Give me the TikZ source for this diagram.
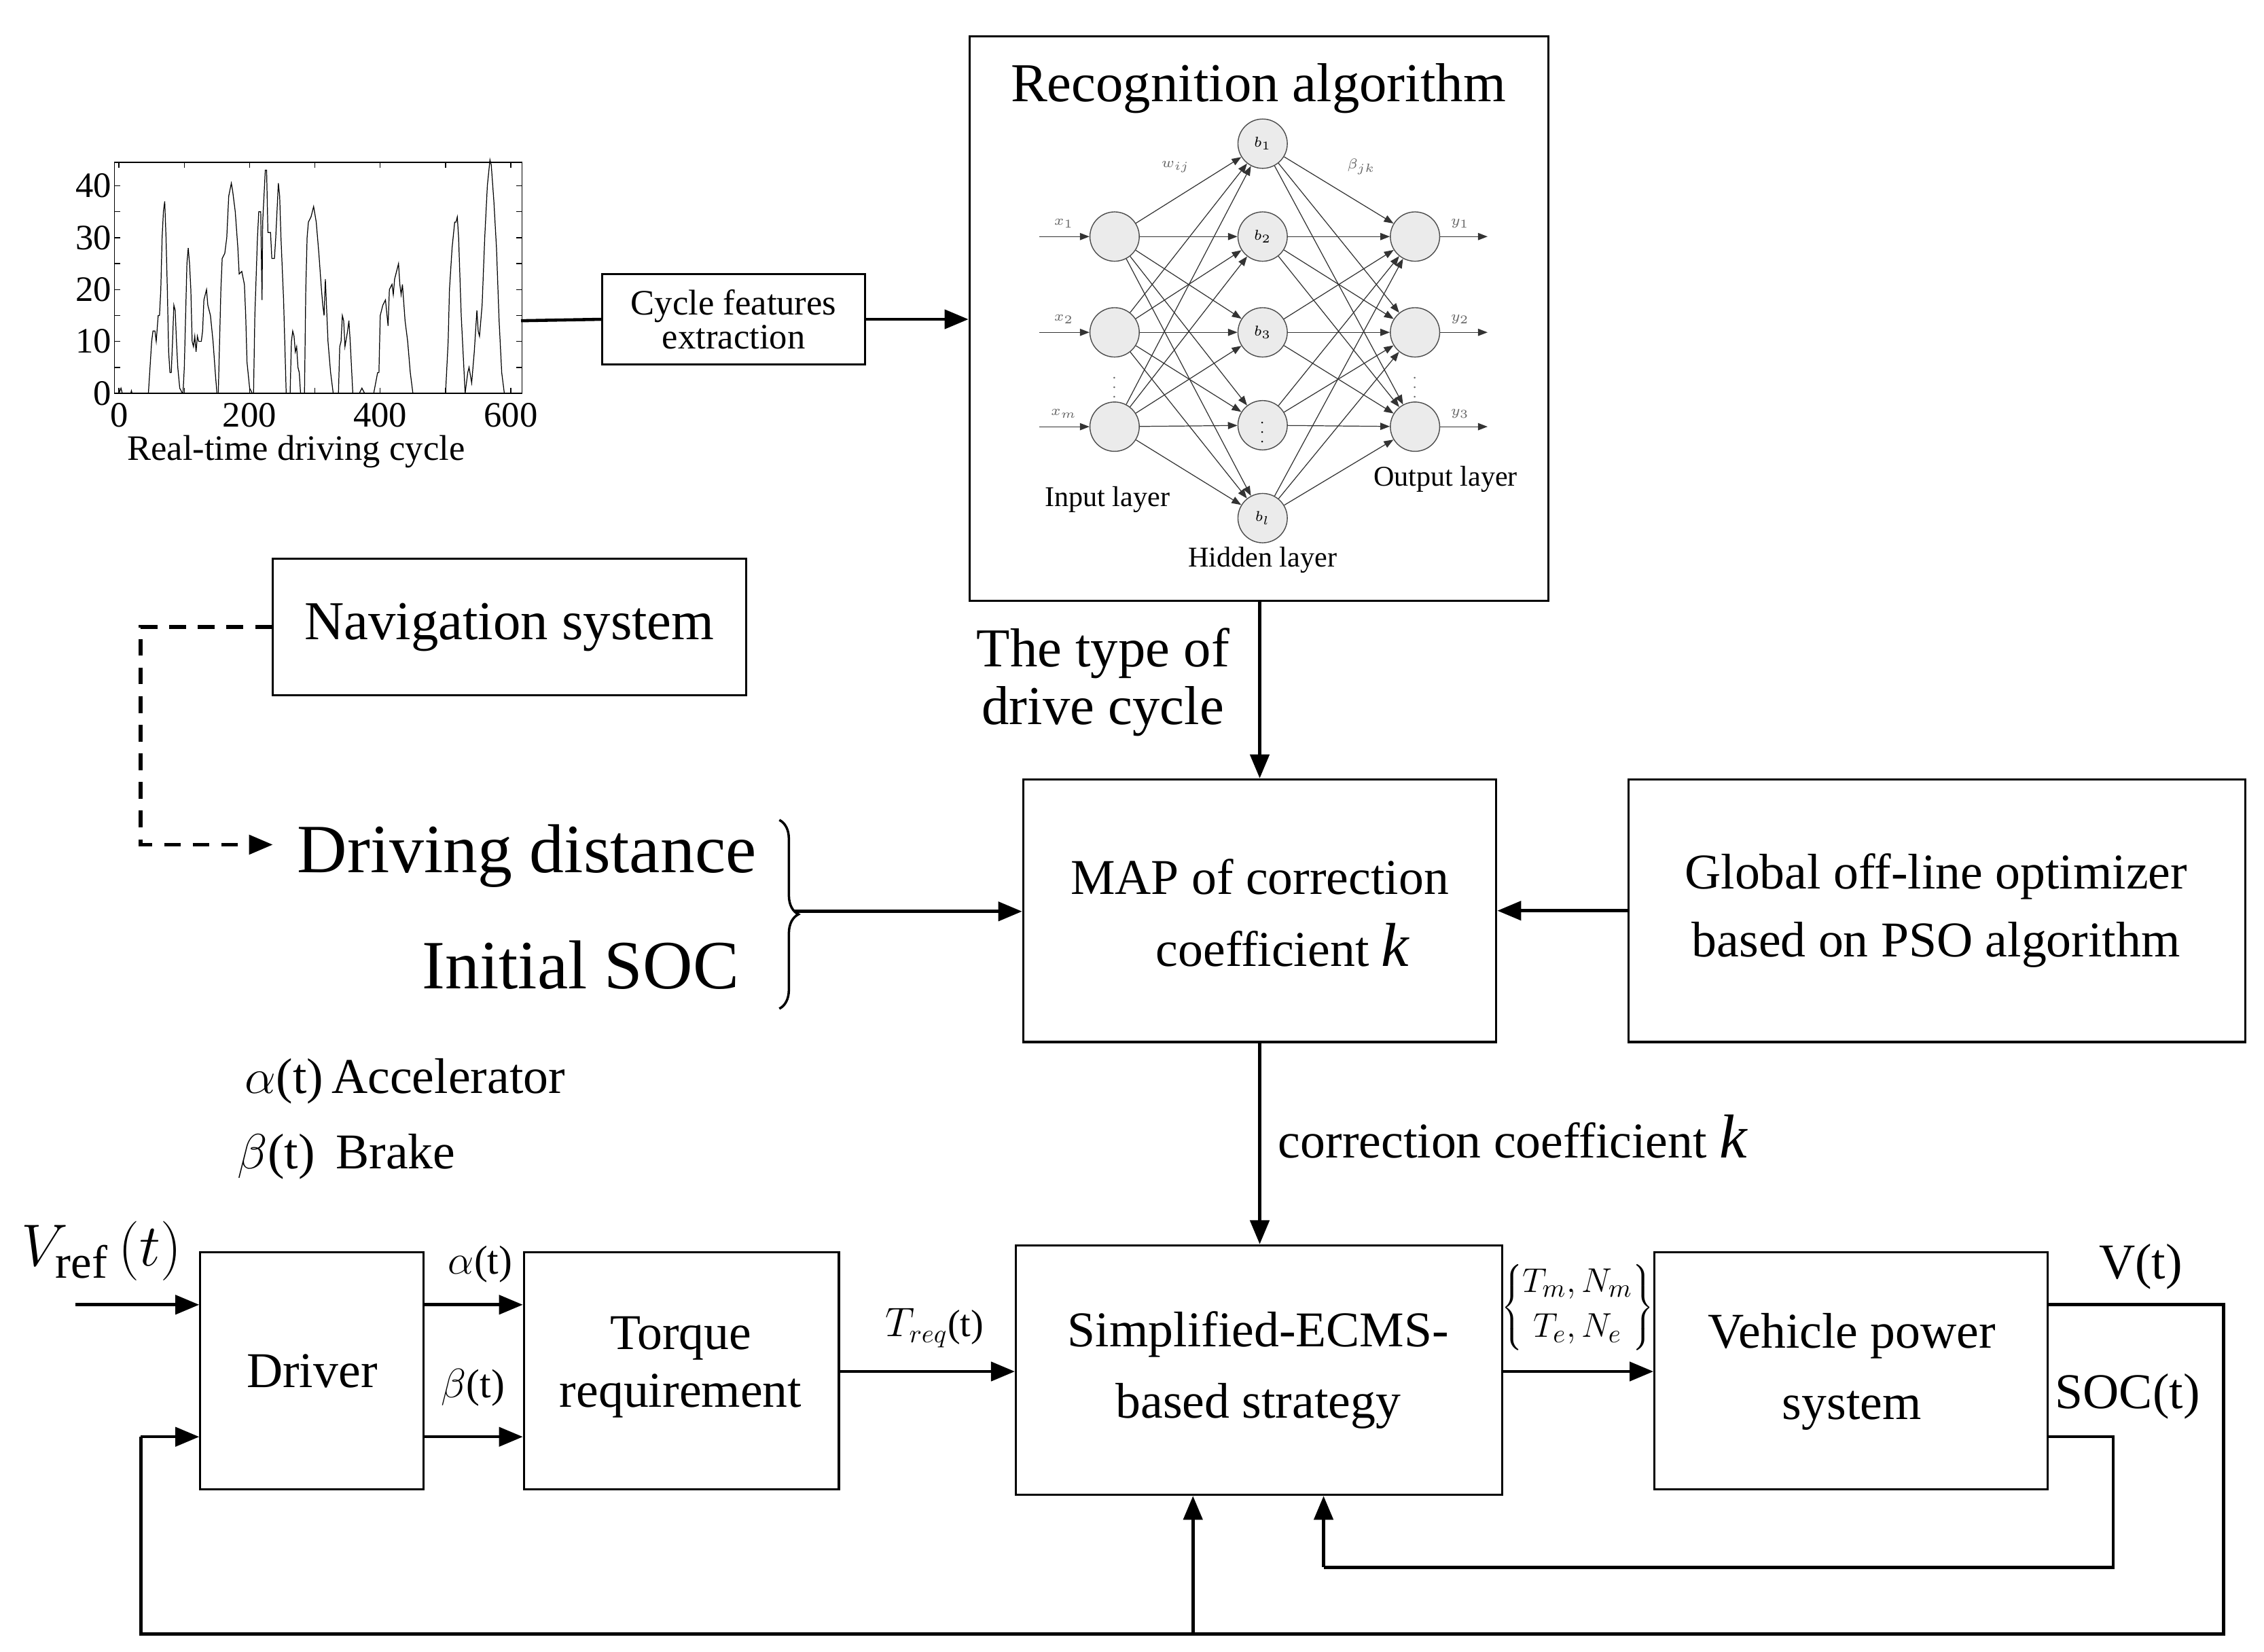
\documentclass[tikz,border=0pt]{standalone}
\usepackage{fontspec}
\setmainfont{Liberation Serif}
\usetikzlibrary{arrows.meta,decorations.pathreplacing}
\begin{document}
\def\U{0.0214cm}
\begin{tikzpicture}[x=0.0214cm,y=-0.0214cm,
  box/.style={draw,line width=0.9pt,inner sep=0pt},
  f22/.style={font=\fontsize{21}{27}\selectfont},
  arr/.style={line width=1.3pt,-{Triangle[length=10pt,width=8pt]}},
  ln/.style={line width=1.3pt},
  nn/.style={circle,draw=black!70,fill=black!8,line width=0.4pt,minimum size=34*\U,inner sep=0pt,font=\fontsize{6}{6}\selectfont\itshape},
  nna/.style={draw=black!80,line width=0.35pt,-{Triangle[length=4pt,width=3pt]}},
  small/.style={font=\fontsize{6}{6}\selectfont\itshape,text=black!60}]
\useasboundingbox (0,0) rectangle (1560,1138);
% ---- plot
\begin{scope}[shift={(82,271)},xscale=0.45,yscale=-3.575]
 \draw[line width=0.5pt] (-7,0) rectangle (617,44.5);
 \foreach \t in {0,100,...,600}{\draw[line width=0.4pt] (\t,0)--(\t,1) (\t,44.5)--(\t,43.5);}
 \foreach \v in {5,10,...,40}{\draw[line width=0.4pt] (-7,\v)--(2,\v) (617,\v)--(608,\v);}
 \foreach \t in {0,200,400,600}{\node[font=\fontsize{15}{15}\selectfont,anchor=north] (xl\t) at (\t,-0.3) {\t};}
 \foreach \v in {0,10,20,30,40}{\node[font=\fontsize{15}{15}\selectfont,anchor=east,inner sep=1pt] (yl\v) at (-7,\v) {\v};}
 \draw[line width=0.35pt] plot coordinates {(0,0)(3,1)(5,0)(18,0)(19,0.5)(20,0)(45,0)(50,10)(52,12)(55,12)(57,10)(60,15)(62,15)(64,20)(66,30)(68,35)(70,37)(72,30)(74,20)(76,8)(78,4)(80,4)(82,10)(84,17)(86,16)(88,10)(90,5)(93,1)(97,0)(98,0)(100,5)(102,15)(104,25)(106,28)(108,25)(110,20)(112,10)(114,9)(116,11)(118,8)(120,11)(122,10)(126,10)(128,12)(130,18)(134,20)(136,17)(140,15)(144,10)(148,3)(150,0)(152,0)(154,10)(156,20)(158,26)(162,27)(165,30)(168,38)(172,40.5)(174,39)(178,35)(182,28)(184,23)(188,23.5)(192,21)(194,15)(196,6)(200,1)(204,0)(206,0)(208,15)(212,30)(214,35)(217,35)(219,18)(220,33)(224,43)(226,43)(228,31)(232,31)(234,26)(238,26)(240,30)(244,40.5)(246,38)(248,30)(252,18)(256,0)(262,0)(264,10)(266,12)(268,11)(270,8)(272,9)(274,5)(276,4)(278,0)(284,0)(286,20)(288,30)(290,33)(294,34)(298,36)(302,33)(306,27)(310,20)(312,17)(314,15)(316,22)(318,16)(320,10)(324,4)(328,0)(336,0)(338,9)(340,10)(342,15)(344,14)(346,9)(350,12)(352,14)(354,10)(358,0)(368,0)(372,1)(376,0)(390,0)(396,4)(398,4)(400,15)(404,17)(408,18)(412,13)(414,20)(418,21)(420,19)(422,22)(428,25)(430,21)(432,19)(434,21)(438,14)(442,10)(446,4)(450,0)(500,0)(504,10)(506,20)(510,28)(514,33)(516,33)(518,34)(520,30)(524,15)(528,5)(530,0)(534,4)(536,5)(540,2)(544,8)(548,16)(550,12)(552,11)(556,17)(560,30)(564,40)(568,45)(570,44)(574,37)(578,28)(582,14)(586,4)(590,0)};
\end{scope}
\coordinate (plotR) at (359,221);
\node[font=\fontsize{15}{15}\selectfont] (rtdc) at (204,311) {Real-time driving cycle};
% ---- boxes
\node[box,minimum width=399*\U,minimum height=389*\U] (rec) at (867.5,219.5) {};
\node[box,minimum width=181*\U,minimum height=62*\U,align=center,font=\fontsize{15}{13}\selectfont] (cyc) at (505.5,220) {Cycle features\\extraction};
\node[box,minimum width=326*\U,minimum height=94*\U,font=\fontsize{23}{28}\selectfont] (nav) at (351,432) {Navigation system};
\node[box,minimum width=326*\U,minimum height=181*\U] (map) at (868,627.5) {};
\node[box,minimum width=425*\U,minimum height=181*\U] (glob) at (1334.5,627.5) {};
\node[box,minimum width=154*\U,minimum height=163*\U,f22] (drv) at (215,944.5) {Driver};
\node[box,minimum width=217*\U,minimum height=163*\U] (trq) at (469.5,944.5) {};
\node[box,minimum width=335*\U,minimum height=172*\U] (ecms) at (867.5,944) {};
\node[box,minimum width=271*\U,minimum height=163*\U] (veh) at (1275.5,944.5) {};
% texts in boxes
\node[font=\fontsize{23}{28}\selectfont] (rect) at (867,61) {Recognition algorithm};
\node[f22] (mapt1) at (868,604) {MAP of correction};
\node[f22] (mapt2) at (884,651) {coefficient \textit{\fontsize{26}{26}\selectfont k}};
\node[f22] (globt1) at (1334,604) {Global off-line optimizer};
\node[f22] (globt2) at (1334,651) {based on PSO algorithm};
\node[f22,align=center,font=\fontsize{21}{24}\selectfont] (trqt) at (469,942) {Torque\\requirement};
\node[f22,align=center,font=\fontsize{21}{30}\selectfont] (ecmst) at (867,944) {Simplified-ECMS-\\based strategy};
\node[f22,align=center,font=\fontsize{21}{30}\selectfont] (veht) at (1276,945) {Vehicle power\\system};
% ---- NN
\foreach \i/\y in {1/163,2/229,3/294}{\node[nn] (in\i) at (768,\y) {};\node[nn] (out\i) at (975,\y) {};}
\foreach \j/\y/\l in {1/99/$b_1$,2/163/$b_2$,3/229/$b_3$,4/293/$\vdots$,5/357/$b_l$}{\node[nn] (h\j) at (870,\y) {\l};}
\foreach \i in {1,2,3}{\foreach \j in {1,...,5}{\draw[nna] (in\i) -- (h\j); \draw[nna] (h\j) -- (out\i);}}
\foreach \i/\y/\a/\b in {1/163/$x_1$/$y_1$,2/229/$x_2$/$y_2$,3/294/$x_m$/$y_3$}{
 \coordinate (ia\i) at (716,\y); \coordinate (oa\i) at (1025,\y);
 \draw[nna] (ia\i) -- (in\i); \draw[nna] (out\i) -- (oa\i);
 \node[small] (xl\i) at (733,\y-9) {\a}; \node[small] (ylab\i) at (1006,\y-9) {\b};}
\node[small] (dots1) at (768,262) {$\vdots$};
\node[small] (dots2) at (975,262) {$\vdots$};
\node[small] (wij) at (810,115) {$w_{ij}$};
\node[small] (bjk) at (938,115) {$\beta_{jk}$};
\node[font=\fontsize{12}{12}\selectfont] (inl) at (763,344) {Input layer};
\node[font=\fontsize{12}{12}\selectfont] (hidl) at (870,386) {Hidden layer};
\node[font=\fontsize{12}{12}\selectfont] (outl) at (996,330) {Output layer};
% ---- top connectors
\draw[ln] (plotR) -- (cyc.west);
\draw[arr] (cyc.east) -- (rec.west |- cyc.east);
\draw[arr] (rec.south -| map.north) -- (map.north);
\node[font=\fontsize{23}{24}\selectfont,align=center] (tod) at (760,470) {The type of\\drive cycle};
% ---- left side
\node[font=\fontsize{29}{29}\selectfont] (dd) at (363,590) {Driving distance};
\node[font=\fontsize{29}{29}\selectfont] (isoc) at (400,665) {Initial SOC};
\draw[line width=1pt,decorate,decoration={brace,amplitude=8pt}] (537,565) -- (537,695);
\coordinate (br) at (547,628);
\draw[arr] (br) -- (map.west |- br);
\coordinate (d1) at (97,432); \coordinate (d2) at (97,582);
\draw[line width=1.6pt,dash pattern=on 7pt off 5pt,-{Triangle[length=10pt,width=8pt]}] (nav.west) -- (d1) -- (d2) -- (188,582);
\draw[arr] (glob.west) -- (map.east);
\node[f22,anchor=west] (acc) at (163,745) {$\alpha$(t)\,Accelerator};
\node[f22,anchor=west] (brk) at (158,797) {$\beta$(t)\, Brake};
% ---- bottom
\draw[arr] (map.south) -- (map.south |- ecms.north);
\node[f22,anchor=west] (cck) at (875,783) {correction coefficient \textit{\fontsize{26}{26}\selectfont k}};
\coordinate (vin) at (52,899);
\draw[arr] (vin) -- (drv.west |- vin);
\node[font=\fontsize{28}{28}\selectfont] (vref) at (70,862) {$V_{\mathrm{ref}}\,(t)$};
\draw[arr] (drv.east |- 0,899) -- (trq.west |- 0,899);
\draw[arr] (drv.east |- 0,990) -- (trq.west |- 0,990);
\node[font=\fontsize{17}{17}\selectfont] (al) at (331,871) {$\alpha$(t)};
\node[font=\fontsize{17}{17}\selectfont] (bl) at (326,956) {$\beta$(t)};
\draw[arr] (trq.east |- 0,945) -- (ecms.west |- 0,945);
\node[font=\fontsize{16}{16}\selectfont] (treq) at (644,915) {$T_{req}$(t)};
\draw[arr] (ecms.east |- 0,945) -- (veh.west |- 0,945);
\node[font=\fontsize{15}{15}\selectfont,inner sep=0pt] (tmn) at (1087,901) {$\left\{\begin{array}{@{}c@{}}T_m,N_m\\[4pt] T_e,N_e\end{array}\right\}$};
\node[f22] (vt) at (1475,873) {V(t)};
\node[f22] (soct) at (1466,962) {SOC(t)};
\coordinate (v1) at (1532,899); \coordinate (v2) at (1532,1126); \coordinate (v3) at (97,1126); \coordinate (v4) at (97,990); \coordinate (v5) at (822,1126);
\draw[ln] (veh.east |- v1) -- (v1) -- (v2) -- (v3) -- (v4);
\draw[arr] (v4) -- (drv.west |- v4);
\draw[arr] (v5) -- (v5 |- ecms.south);
\coordinate (s1) at (1456,990); \coordinate (s2) at (1456,1080); \coordinate (s3) at (912,1080);
\draw[ln] (veh.east |- s1) -- (s1) -- (s2) -- (s3);
\draw[arr] (s3) -- (s3 |- ecms.south);
\end{tikzpicture}
\end{document}
